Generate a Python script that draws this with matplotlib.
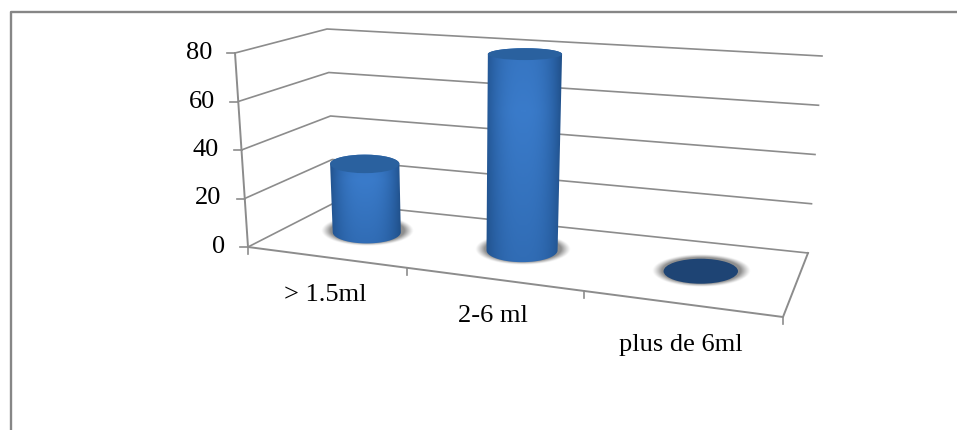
import numpy as np
import matplotlib
matplotlib.use('Agg')
import matplotlib.pyplot as plt
from matplotlib.colors import LinearSegmentedColormap
from matplotlib.patches import Ellipse, Polygon

plt.rcParams['font.family'] = ['Liberation Serif', 'DejaVu Serif']

categories = ['> 1.5ml', '2-6 ml', 'plus de 6ml']
values = [29, 80, 0]
value_ticks = [0, 20, 40, 60, 80]

# chart box in image pixels: floor corners and wall offset for the full scale
FLOOR = np.array([[248, 247], [783, 317], [808, 253], [334, 203]], dtype=float)
RISE = np.array([[-13, -194], [17, -219], [14, -197], [-7, -174]], dtype=float)
VMAX = value_ticks[-1]
DEPTH = 0.50
CAT_SHIFT = 0.52
TICK_SHIFT = [0, 0.04, 0.04, 0]
LABEL_POS = [(325, 295), (492.5, 316), (681, 345)]
GRID = '#8c8c8c'


def homography(corners):
    src = [(0, 0), (1, 0), (1, 1), (0, 1)]
    a, b = [], []
    for (u, w), (x, y) in zip(src, corners):
        a.append([u, w, 1, 0, 0, 0, -u * x, -w * x])
        a.append([0, 0, 0, u, w, 1, -u * y, -w * y])
        b += [x, y]
    return np.append(np.linalg.solve(np.array(a), np.array(b)), 1).reshape(3, 3)


H = homography(FLOOR)


def project(cat, depth, value):
    u = cat / len(categories)
    p = H @ np.array([u, depth, 1.0])
    base = p[:2] / p[2]
    rise = ((1 - u) * (1 - depth) * RISE[0] + u * (1 - depth) * RISE[1]
            + u * depth * RISE[2] + (1 - u) * depth * RISE[3])
    return base + rise * value / VMAX


def half_sizes(x, y):
    # cylinders get wider to the right, and flatter when seen from higher up
    return 32 + 0.0095 * (x - 150), 4.3 + 0.0302 * y


def draw_shadow(ax, cx, cy, a, b):
    cy = cy - 1
    ys, xs = np.mgrid[cy - b - 10:cy + b + 10:80j, cx - a - 18:cx + a + 18:160j]
    r = np.hypot((xs - cx) / (a + 12), (ys - cy) / (b + 4))
    alpha = np.clip((1 - r) / 0.2, 0, 1) ** 1.2 * 0.8
    img = np.zeros(r.shape + (4,))
    img[..., :3] = 0.45
    img[..., 3] = alpha
    ax.imshow(img, extent=(xs.min(), xs.max(), ys.max(), ys.min()), aspect='auto',
              zorder=3, interpolation='bilinear')


def draw_cylinder(ax, pos, value):
    bx, by = project(pos, DEPTH, 0)
    tx, ty = project(pos, DEPTH, value)
    a0, b0 = half_sizes(bx, by)
    a1, b1 = half_sizes(bx, ty)
    a1 += 0.008 * (by - ty)
    draw_shadow(ax, bx, by, a0, b0)
    if value == 0:
        ax.add_patch(Ellipse((bx, by), 2 * a0, 2 * b0, fc='#1e4474', ec='none', zorder=5))
        return
    t = np.linspace(0, np.pi, 60)
    lower = np.c_[bx + a0 * np.cos(t), by + b0 * np.sin(t)]
    upper = np.c_[tx + a1 * np.cos(t[::-1]), ty - b1 * np.sin(t[::-1])]
    outline = Polygon(np.r_[lower, upper], closed=True, fc='none', ec='none',
                      transform=ax.transData)
    ax.add_patch(outline)
    ys, xs = np.mgrid[0:1:120j, -1:1:160j]
    shade = (1 - np.abs(xs + 0.02) ** 2.6) * (1 - 0.42 * np.abs(ys - 0.3))
    cmap = LinearSegmentedColormap.from_list('side', ['#1d4a80', '#2a62a6', '#3a7bca'])
    im = ax.imshow(shade, cmap=cmap, vmin=0, vmax=1, aspect='auto', zorder=4,
                   extent=(min(bx, tx) - a1 - 2, max(bx, tx) + a1 + 2,
                           by + b0 + 2, ty - b1 - 2), interpolation='bilinear')
    im.set_clip_path(outline)
    ax.add_patch(Ellipse((tx, ty), 2 * a1, 2 * b1, fc='#2a619f', ec='none', zorder=5))


fig = plt.figure(figsize=(9.57, 4.3), dpi=100)
ax = fig.add_axes([0, 0, 1, 1])

# outer frame of the embedded chart, only left and top are inside the crop
ax.plot([10.5, 10.5, 957], [430, 12, 12], color='#868686', lw=1.7, zorder=1)

# gridlines running along the side wall and the back wall
for v in value_ticks:
    pts = np.array([project(0, 0, v), project(0, 1, v), project(len(categories), 1, v)])
    ax.plot(pts[:, 0], pts[:, 1], color=GRID, lw=1.2, zorder=2)
    front = project(0, 0, v)
    ax.plot([front[0] - 8, front[0]], [front[1], front[1]], color=GRID, lw=1.2, zorder=2)
    ax.text(front[0] - 23, front[1], str(v), ha='right', va='center', fontsize=19, color='black')

# value axis, floor edges and category ticks
axis = np.array([project(0, 0, v) for v in value_ticks])
ax.plot(axis[:, 0], axis[:, 1], color=GRID, lw=1.4, zorder=2)
edge = np.array([project(0, 0, 0), project(len(categories), 0, 0), project(len(categories), 1, 0)])
ax.plot(edge[:, 0], edge[:, 1], color=GRID, lw=1.4, zorder=2)
for i in range(len(categories) + 1):
    x, y = project(i + TICK_SHIFT[i], 0, 0)
    ax.plot([x, x], [y, y + 7], color=GRID, lw=1.2, zorder=2)

for i, v in enumerate(values):
    draw_cylinder(ax, i + CAT_SHIFT, v)

for name, (x, y) in zip(categories, LABEL_POS):
    ax.text(x, y, name, ha='center', va='center', fontsize=19, color='black')

ax.set_xlim(0, 957)
ax.set_ylim(430, 0)
ax.axis('off')

fig.savefig('out.png', dpi=100)
